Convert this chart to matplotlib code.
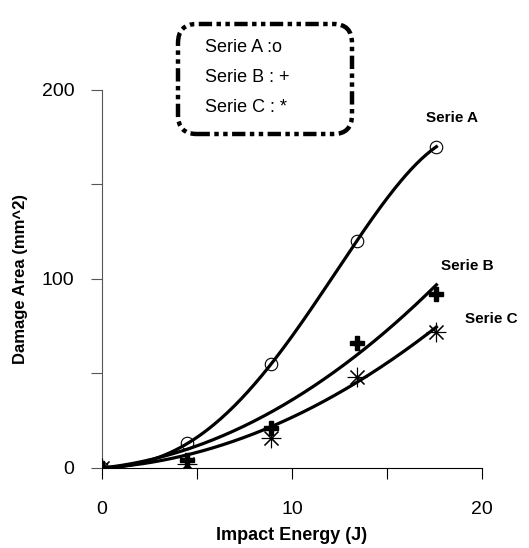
import numpy as np
import matplotlib
matplotlib.use("Agg")
import matplotlib.pyplot as plt
from matplotlib.patches import FancyBboxPatch

# donnees
energie = [0, 4.5, 8.9, 13.4, 17.6]
serie_a = [0, 13, 55, 120, 170]
serie_b = [0, 4, 21, 66, 92]
serie_c = [0, 2, 16, 48, 72]

# les tendances B et C de l'original ne suivent pas exactement les points :
# coefficients (x, x^2)
tendance_b = [1.09, 0.251]
tendance_c = [0.63, 0.205]


def poly0(coef, xx):
    return sum(c * xx ** (k + 1) for k, c in enumerate(coef))


plt.rcParams['font.family'] = ['Liberation Sans', 'DejaVu Sans']

fig = plt.figure(figsize=(5.29, 5.48), dpi=100)
ax = fig.add_axes([0.1928, 0.146, 0.7184, 0.6898])

xx = np.linspace(0, max(energie), 200)
# serie A : polynome d'ordre 4, passe par tous les points
ax.plot(xx, np.polyval(np.polyfit(energie, serie_a, 4), xx), color='black',
        lw=2.3, zorder=2)
for coef in [tendance_b, tendance_c]:
    ax.plot(xx, poly0(coef, xx), color='black', lw=2.3, zorder=2)

ax.plot(energie, serie_a, 'o', ms=9, mfc='none', mec='black', mew=0.8, zorder=3)
ax.plot(energie, serie_b, 'P', ms=10, color='black', zorder=3)
ax.plot(energie, serie_c, marker=(8, 2, 0), ls='none', ms=14, color='black',
        mew=0.8, zorder=3)

ax.set_xlim(0, 20)
ax.set_ylim(0, 200)
ax.set_xticks([0, 5, 10, 15, 20])
ax.set_xticklabels(['0', '', '10', '', '20'])
ax.set_yticks([0, 50, 100, 150, 200])
ax.set_yticklabels(['0', '', '100', '', '200'])
ax.tick_params(axis='x', length=8, width=0.8, pad=16, labelsize=14)
ax.tick_params(axis='y', length=8, width=0.8, pad=12, labelsize=14, color='#555555')
ax.spines['top'].set_visible(False)
ax.spines['right'].set_visible(False)
ax.spines['left'].set_color('#555555')
ax.spines['left'].set_linewidth(0.8)
ax.spines['bottom'].set_linewidth(0.8)

ax.set_xlabel('Impact Energy (J)', fontsize=13, fontweight='bold', labelpad=6)
fig.text(0.038, 0.49, 'Damage Area (mm^2)', rotation=90, fontsize=12,
         fontweight='bold', ha='center', va='center')

# etiquettes des series
ax.text(18.4, 185, 'Serie A', fontsize=11, fontweight='bold', ha='center',
        va='center', clip_on=False)
ax.text(19.2, 107, 'Serie B', fontsize=11, fontweight='bold', ha='center',
        va='center', clip_on=False)
ax.text(20.5, 79, 'Serie C', fontsize=11, fontweight='bold', ha='center',
        va='center', clip_on=False)

# encadre legende
box = FancyBboxPatch((178 / 529, 1 - 134 / 548), 174 / 529, 110 / 548,
                     boxstyle='round,pad=0,rounding_size=0.035',
                     transform=fig.transFigure, fill=False, lw=3.2,
                     ls=(0, (3, 1, 1, 1, 1, 1)), edgecolor='black')
fig.patches.append(box)
for i, t in enumerate(['Serie A :o', 'Serie B : +', 'Serie C : *']):
    fig.text(205 / 529, 1 - (48 + 30 * i) / 548, t, fontsize=13,
             ha='left', va='center')

fig.savefig('out.png', dpi=100)
